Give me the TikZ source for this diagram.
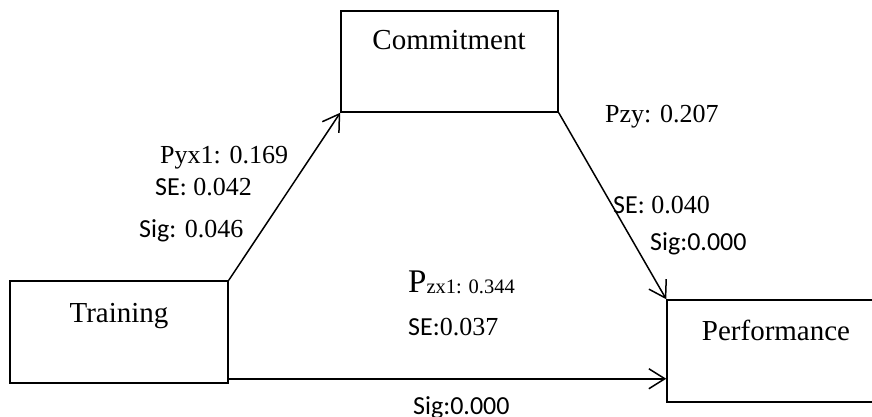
\documentclass[tikz,border=0pt]{standalone}
\usepackage{fontspec}
\setmainfont{Liberation Serif}
\newfontfamily\calfont{Carlito}
\usetikzlibrary{arrows.meta,calc}
\begin{document}
\begin{tikzpicture}[x=1pt,y=-1pt,
  box/.style={draw,line width=1.5pt,minimum width=218pt,minimum height=102pt,inner sep=0pt},
  boxtext/.style={anchor=base,font=\fontsize{29}{30}\selectfont,inner sep=0pt},
  lab/.style={anchor=base west,font=\fontsize{26}{28}\selectfont,inner sep=0pt},
  conn/.style={line width=1.5pt,-{Straight Barb[length=16pt,width=20pt,line width=1.5pt]}}]
\useasboundingbox (0,0) rectangle (872,417);
\clip (0,0) rectangle (872,417);
\node[box] (train) at (119,332) {};
\node[box,minimum width=217pt,minimum height=101pt] (comm) at (449.5,61.5) {};
\node[box] (perf) at (776,351) {};
\node[boxtext] (ttrain) at (119,322) {Training};
\node[boxtext] (tcomm) at (449,50) {Commitment};
\node[boxtext] (tperf) at (776,340) {Performance};
\coordinate (hstart) at ($(train.south east)+(0,-5)$);
\draw[conn] (train.north east) -- (comm.south west);
\draw[conn] (comm.south east) -- (perf.north west);
\draw[conn] (hstart) -- (perf.west |- hstart);
\node[lab] (l1) at (160,163) {Pyx1: 0.169};
\node[lab] (l2) at (155,195) {{\calfont SE:} 0.042};
\node[lab] (l3) at (139,237) {{\calfont Sig:} 0.046};
\node[lab] (l4) at (605,123) {Pzy: 0.207};
\node[lab] (l5) at (613,213) {{\calfont SE:} 0.040};
\node[lab] (l6) at (650,250) {\calfont Sig:0.000};
\node[lab] (l7) at (408,292) {{\fontsize{33}{34}\selectfont P}\raisebox{-1pt}{\fontsize{20.5}{22}\selectfont zx1: 0.344}};
\node[lab] (l8) at (408,335) {{\calfont SE:}0.037};
\node[lab] (l9) at (413,414) {\calfont Sig:0.000};
\end{tikzpicture}
\end{document}
